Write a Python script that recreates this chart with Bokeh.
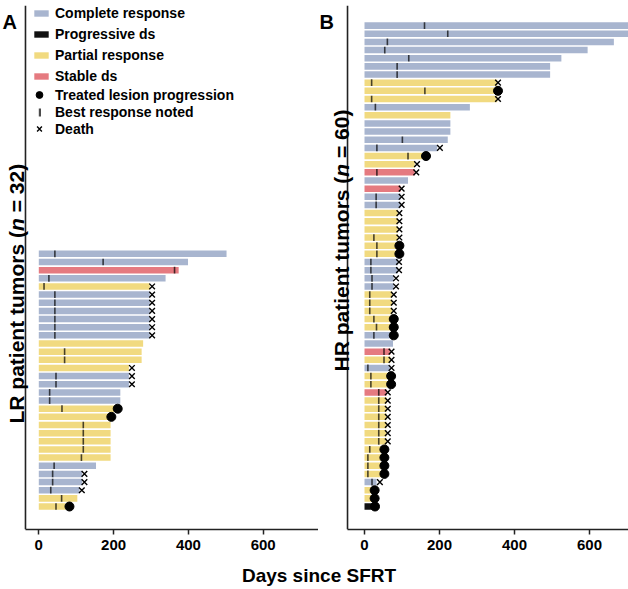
import math
from bokeh.plotting import figure
from bokeh.models import (ColumnDataSource, Legend, LegendItem, Label,
                          FixedTicker, Range1d, Div, Span)
from bokeh.layouts import row, column
from bokeh.embed import file_html
from bokeh.resources import INLINE

# ---------------- data (rows listed top to bottom) ----------------
# Panel A: LR patient tumors (n = 32)
a_response = ["CR", "CR", "SD", "CR", "PR", "CR", "CR", "CR", "CR", "CR", "CR",
              "PR", "PR", "PR", "PR", "CR", "CR", "CR", "CR", "PR", "PR", "PR",
              "PR", "PR", "PR", "PR", "CR", "CR", "CR", "CR", "PR", "PR"]
a_days = [502, 399, 374, 339, 297, 297, 297, 297, 297, 297, 297,
          279, 275, 275, 241, 241, 241, 218, 218, 205, 190, 192,
          192, 192, 192, 192, 153, 116, 116, 109, 103, 72]
a_best = [43, 172, 363, 27, 14, 43, 43, 43, 43, 43, 43,
          None, 69, 69, None, 46, 46, 29, 29, 62, None, 119,
          119, 119, 119, 114, 41, 37, 37, 32, 61, 46]
a_event = ["", "", "", "", "D", "D", "D", "D", "D", "D", "D",
           "", "", "", "D", "D", "D", "", "", "P", "P", "",
           "", "", "", "", "", "D", "D", "D", "", "P"]
a_event_day = [None, None, None, None, 303, 303, 303, 303, 303, 303, 303,
               None, None, None, 249, 249, 249, None, None, 211, 194, None,
               None, None, None, None, None, 122, 122, 115, None, 82]

# Panel B: HR patient tumors (n = 60)
b_response = ["CR", "CR", "CR", "CR", "CR", "CR", "CR", "PR", "PR", "PR",
              "CR", "PR", "CR", "CR", "CR", "CR", "PR", "PR", "SD", "CR",
              "SD", "CR", "CR", "PR", "PR", "PR", "PR", "PR", "PR", "CR",
              "CR", "CR", "CR", "PR", "PR", "PR", "PR", "PR", "CR", "CR",
              "SD", "PR", "CR", "PR", "PR", "SD", "PR", "PR", "PR", "PR",
              "PR", "PR", "PR", "PR", "PR", "PR", "CR", "PR", "PR", "PD"]
b_days = [712, 708, 665, 595, 525, 495, 495, 354, 354, 354,
          281, 229, 229, 229, 222, 194, 154, 134, 134, 116,
          96, 96, 96, 89, 89, 89, 89, 87, 87, 89,
          89, 78, 78, 74, 74, 74, 74, 74, 74, 76,
          69, 69, 69, 65, 65, 59, 59, 59, 59, 59,
          59, 59, 50, 50, 50, 50, 32, 23, 23, 25]
b_best = [160, 222, 61, 54, 118, 87, 87, 19, 161, 19,
          29, None, None, None, 101, 33, 116, None, 33, None,
          None, 31, 31, None, None, None, 25, 33, 33, 17,
          17, 20, 20, 14, 14, 14, 25, 32, 25, None,
          52, 52, 9, 17, 17, 38, 38, 38, 38, 38,
          38, 38, 14, 9, 9, 9, 20, None, None, None]
b_event = ["", "", "", "", "", "", "", "D", "P", "D",
           "", "", "", "", "", "D", "P", "D", "D", "",
           "D", "D", "D", "D", "D", "D", "D", "P", "P", "D",
           "D", "D", "D", "D", "D", "D", "P", "P", "P", "",
           "D", "D", "D", "P", "P", "D", "D", "D", "D", "D",
           "D", "D", "P", "P", "P", "P", "D", "P", "P", "P"]
b_event_day = [None, None, None, None, None, None, None, 356, 356, 356,
               None, None, None, None, None, 201, 164, 140, 138, None,
               99, 99, 99, 93, 93, 93, 93, 93, 93, 92,
               92, 84, 84, 78, 78, 78, 78, 78, 78, None,
               72, 72, 72, 71, 71, 62, 62, 62, 62, 62,
               62, 62, 53, 53, 53, 53, 41, 27, 27, 28]

categories = ["CR", "PD", "PR", "SD"]
category_labels = ["Complete response", "Progressive ds", "Partial response", "Stable ds"]
marker_labels = ["Treated lesion progression", "Best response noted", "Death"]
x_ticks = [0, 200, 400, 600]
x_title = "Days since SFRT"

# ---------------- styling ----------------
FONT = "Liberation Sans"
COLORS = {"CR": "#A8B5CF", "PD": "#111111", "PR": "#F1DA80", "SD": "#E57A80"}
FRAME_TOP = 5
FRAME_H = 524          # frame from y=5 to y=529
BORDER_B = 30


def make_panel(resp, days, best, event, event_day, x0, x1, axis_x, width):
    n = len(resp)
    rows = [n - i for i in range(n)]
    p = figure(width=width, height=FRAME_TOP + FRAME_H + BORDER_B,
               x_range=Range1d(x0, x1), y_range=Range1d(-1.82, 62.47),
               output_backend="svg", toolbar_location=None, y_axis_location=None,
               min_border_left=0, min_border_right=0,
               min_border_top=FRAME_TOP, min_border_bottom=BORDER_B)
    p.outline_line_color = None
    p.grid.visible = False
    p.background_fill_color = "white"
    p.border_fill_color = "white"

    bars = {}
    for code in categories:
        idx = [i for i in range(n) if resp[i] == code]
        src = ColumnDataSource(dict(y=[rows[i] for i in idx],
                                    right=[days[i] for i in idx]))
        bars[code] = p.hbar(y="y", left=0, right="right", height=0.8, source=src,
                            fill_color=COLORS[code], line_color=None)

    ti = [i for i in range(n) if best[i] is not None]
    tick_r = p.rect(x=[best[i] for i in ti], y=[rows[i] for i in ti],
                    width=1.6, width_units="screen", height=0.82,
                    fill_color="black", fill_alpha=0.7, line_color=None)
    di = [i for i in range(n) if event[i] == "D"]
    death_r = p.scatter(x=[event_day[i] for i in di], y=[rows[i] for i in di],
                        marker="x", size=8, line_color="black", line_width=1.4)
    pi_ = [i for i in range(n) if event[i] == "P"]
    prog_r = p.scatter(x=[event_day[i] for i in pi_], y=[rows[i] for i in pi_],
                       marker="circle", size=9, fill_color="black", line_color="black")

    # vertical axis line
    p.add_layout(Span(location=axis_x, dimension="height", line_color="#222222",
                      line_width=1.6))

    p.xaxis.ticker = FixedTicker(ticks=x_ticks)
    p.xaxis.bounds = (axis_x, x1)
    p.xaxis.axis_line_width = 1.6
    p.xaxis.axis_line_color = "#222222"
    p.xaxis.major_tick_in = 0
    p.xaxis.major_tick_out = 5
    p.xaxis.major_tick_line_width = 1.5
    p.xaxis.major_tick_line_color = "#222222"
    p.xaxis.minor_tick_line_color = None
    p.xaxis.major_label_standoff = 5
    p.xaxis.major_label_text_font = FONT
    p.xaxis.major_label_text_font_style = "bold"
    p.xaxis.major_label_text_font_size = "15px"
    p.xaxis.major_label_text_color = "black"
    return p, bars, prog_r, tick_r, death_r


# panel A: frame x 0..318 px, 0 days at x=38.3 px, 0.374 px/day
pA, barsA, progA, tickA, deathA = make_panel(a_response, a_days, a_best, a_event,
                                             a_event_day, -102.4, 747.9, -35.6, 318)
# panel B: frame x 318..628 px, 0 days at x=364 px, 0.375 px/day
pB, barsB, progB, tickB, deathB = make_panel(b_response, b_days, b_best, b_event,
                                             b_event_day, -122.7, 704.0, -45.3, 310)

# panel A has no progressive-disease bar; a hidden proxy (panel B's data) feeds its legend swatch
pd_proxy = pA.hbar(y="y", left=0, right="right", height=0.8,
                   source=barsB["PD"].data_source, fill_color=COLORS["PD"],
                   line_color=None, visible=False)
legend_bar_renderers = dict(barsA)
legend_bar_renderers["PD"] = pd_proxy

FRAME_BOTTOM = FRAME_TOP + FRAME_H


def add_legend(p, items, box_left, top, glyph_w, glyph_h, label_h, spacing, standoff):
    n = len(items)
    item_h = max(glyph_h, label_h)
    height = n * item_h + (n - 1) * spacing
    leg = Legend(items=items, location=(box_left, FRAME_BOTTOM - (top + height)),
                 glyph_width=glyph_w, glyph_height=glyph_h, label_height=label_h,
                 label_standoff=standoff, spacing=spacing, padding=0, margin=0,
                 label_text_font=FONT, label_text_font_style="bold",
                 label_text_font_size="14px", label_text_color="black",
                 background_fill_alpha=0, border_line_color=None)
    p.add_layout(leg)


add_legend(pA, [LegendItem(label=lab, renderers=[legend_bar_renderers[c]])
                for c, lab in zip(categories, category_labels)],
           32, 4, 18, 8, 17, 4, 5)
add_legend(pA, [LegendItem(label=marker_labels[0], renderers=[progA])],
           30, 86, 18, 17, 17, 0, 7)
add_legend(pA, [LegendItem(label=marker_labels[1], renderers=[tickA])],
           38, 103, 3, 10, 17, 0, 14)
add_legend(pA, [LegendItem(label=marker_labels[2], renderers=[deathA])],
           30, 120, 18, 17, 17, 0, 7)


def title_parts(p, x, y, first, last):
    fs = 21
    kw = dict(x_units="screen", y_units="screen", angle=math.pi / 2,
              text_font=FONT, text_font_size=f"{fs}px", text_color="black",
              text_baseline="alphabetic", text_align="left")
    w1 = (9.278 if first.startswith("H") else 9.167) * fs
    w_n = 0.611 * fs
    w_space = 0.278 * fs
    p.add_layout(Label(x=x, y=y, text=first, text_font_style="bold", **kw))
    p.add_layout(Label(x=x, y=y + w1, text="n", text_font_style="bold italic", **kw))
    p.add_layout(Label(x=x, y=y + w1 + w_n + w_space, text=last,
                       text_font_style="bold", **kw))


title_parts(pA, 16, 106, "LR patient tumors (", "= 32)")
title_parts(pB, 23, 158, "HR patient tumors (", "= 60)")

for p, lx, txt in [(pA, 2, "A"), (pB, 1, "B")]:
    p.add_layout(Label(x=lx, y=FRAME_BOTTOM - 21, x_units="screen", y_units="screen",
                       text=txt, text_font=FONT, text_font_style="bold",
                       text_font_size="20px", text_color="black",
                       text_baseline="alphabetic"))

div = Div(text=x_title, width=628, height=26,
          styles={"text-align": "center", "font-family": FONT, "font-weight": "bold",
                  "font-size": "19px", "line-height": "24px", "color": "black"})

layout = column(row(pA, pB), div)
open("out.html", "w").write(file_html(layout, INLINE))
